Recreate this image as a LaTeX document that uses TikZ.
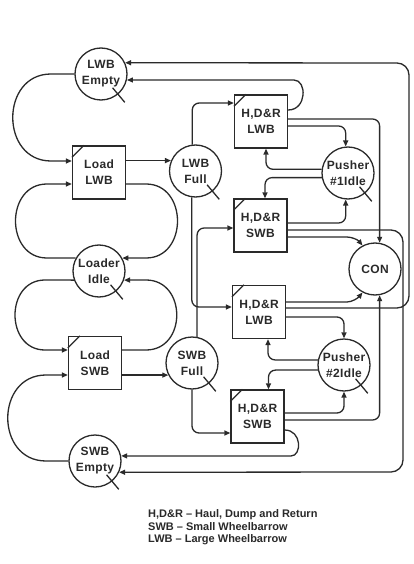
\documentclass[tikz,border=0pt]{standalone}
\usepackage{fontspec}
\setmainfont{Liberation Sans}
\newfontfamily\lblfont[LetterSpace=3]{Liberation Sans}
\usetikzlibrary{calc,arrows.meta}
\definecolor{ink}{HTML}{2A2A2A}
\begin{document}
\begin{tikzpicture}[x=1pt,y=-1pt,
  ln/.style={draw=ink, line width=1.3pt},
  arr/.style={ln, -{Triangle[length=6pt,width=5pt]}, rounded corners=7pt},
  qnode/.style={circle, draw=ink, line width=1.3pt, minimum size=52pt, inner sep=0pt,
    align=center, text=ink, font=\lblfont\bfseries\fontsize{12}{16}\selectfont},
  anode/.style={rectangle, draw=ink, line width=1.3pt, minimum width=53pt, minimum height=53pt,
    inner sep=0pt, align=center, text=ink, font=\lblfont\bfseries\fontsize{12}{16}\selectfont},
  mk/.style={draw=ink, line width=1.3pt},
  legend/.style={anchor=base west, inner sep=0pt, text=ink, font=\bfseries\fontsize{11}{12}\selectfont}
]
\fill[white] (0,0) rectangle (413,564);
\useasboundingbox (0,0) rectangle (413,564);

% nodes
\node[qnode] (lwbE) at (101,74) {LWB\\Empty};
\node[anode] (loadL) at (99,172.5) {Load\\LWB};
\node[qnode] (lwbF) at (195.5,171) {LWB\\Full};
\node[qnode] (ldr) at (99,271) {Loader\\Idle};
\node[anode] (loadS) at (95,363) {Load\\SWB};
\node[qnode] (swbF) at (192,363) {SWB\\Full};
\node[qnode] (swbE) at (95,461) {SWB\\Empty};
\node[anode] (h1) at (261,121.5) {H,D\&R\\LWB};
\node[qnode] (p1) at (348,173) {Pusher\\\#1Idle};
\node[anode] (h2) at (260.5,225.5) {H,D\&R\\SWB};
\node[qnode] (con) at (375,269) {CON};
\node[anode] (h3) at (259,312) {H,D\&R\\LWB};
\node[qnode] (p2) at (344,365) {Pusher\\\#2Idle};
\node[anode] (h4) at (257.5,416.5) {H,D\&R\\SWB};

% marks
\foreach \n in {lwbE,lwbF,ldr,swbF,swbE,p1,p2}
  \draw[mk] ($(\n)+(-50:18pt)$) -- ($(\n)+(-50:37pt)$);
\foreach \n in {loadL,loadS,h1,h2,h3,h4}
  \draw[mk] ([yshift=-12pt]\n.north west) -- ([xshift=12pt]\n.north west);

% left side loops
\draw[arr] (lwbE.west) -- (58,74) .. controls (0,74) and (0,161) .. (58,161) -- (loadL.west |- 0,161);
\draw[arr] (loadL.east |- lwbF.157) -- (lwbF.157);
\draw[arr] (loadL.east |- 0,184) -- (139,184) .. controls (188,184) and (188,258) .. (139,258) -- (ldr.29);
\draw[arr] (ldr.151) -- (54,258) .. controls (5,258) and (5,184) .. (54,184) -- (loadL.west |- 0,184);
\draw[arr] (ldr.200) -- (52,280) .. controls (5,280) and (5,350) .. (52,350) -- (loadS.west |- 0,350);
\draw[arr] (loadS.east |- 0,350) -- (139,350) .. controls (187,350) and (187,280) .. (139,280) -- (ldr.340);
\draw[arr] (loadS.east |- swbF.207) -- (swbF.207);
\draw[arr] (swbE.west) -- (53,461) .. controls (-5,461) and (-5,375) .. (53,375) -- (loadS.west |- 0,375);

% full -> haul
\draw[arr] (lwbF.97) |- (h1.west |- 0,103);
\draw[arr] (lwbF.262) |- (h3.west |- 0,307);
\draw[arr] (swbF.79) |- (h2.west |- 0,228);
\draw[arr] (swbF.south) |- (h4.west |- 0,433);

% returns to empty
\draw[arr] (h1.east |- 0,110) .. controls (307,110) and (307,80) .. (287,80) -- (lwbE.-13);
\draw[arr,rounded corners=12pt] (h3.east |- 0,308) -- (409,308) -- (409,63) -- (lwbE.25);
\draw[arr,rounded corners=12pt] (h2.east |- 0,230) -- (403,230) -- (403,472) -- (swbE.-25);
\draw[arr] (h4.east |- 0,430) .. controls (302,430) and (302,456) .. (284,456) -- (swbE.11);

% CON
\draw[arr] (h1.east |- 0,119) -| (con.80);
\draw[arr] (h2.east |- 0,237) -- (340,237) .. controls (352,237) and (358,240) .. (con.118);
\draw[arr] (h3.east |- 0,302) -- (340,302) .. controls (352,302) and (358,298) .. (con.242);
\draw[arr] (h4.east |- 0,420) -| (con.280);

% pushers
\draw[arr] (h1.east |- 0,126) -| (p1.95);
\draw[arr] (p1.172) -| ([xshift=5pt]h1.south);
\draw[arr] (p1.190) -| ([xshift=4.5pt]h2.north);
\draw[arr] (h2.east |- 0,223) -| (p1.265);
\draw[arr] (h3.east |- 0,317) -| (p2.north);
\draw[arr] (p2.169) -| ([xshift=9pt]h3.south);
\draw[arr] (p2.191) -| ([xshift=11pt]h4.north);
\draw[arr] (h4.east |- 0,413) -| (p2.south);

% legend
\node[legend] (lg1) at (148,517) {H,D\&R – Haul, Dump and Return};
\node[legend] (lg2) at (148,530) {SWB – Small Wheelbarrow};
\node[legend] (lg3) at (148,542) {LWB – Large Wheelbarrow};
\end{tikzpicture}
\end{document}
